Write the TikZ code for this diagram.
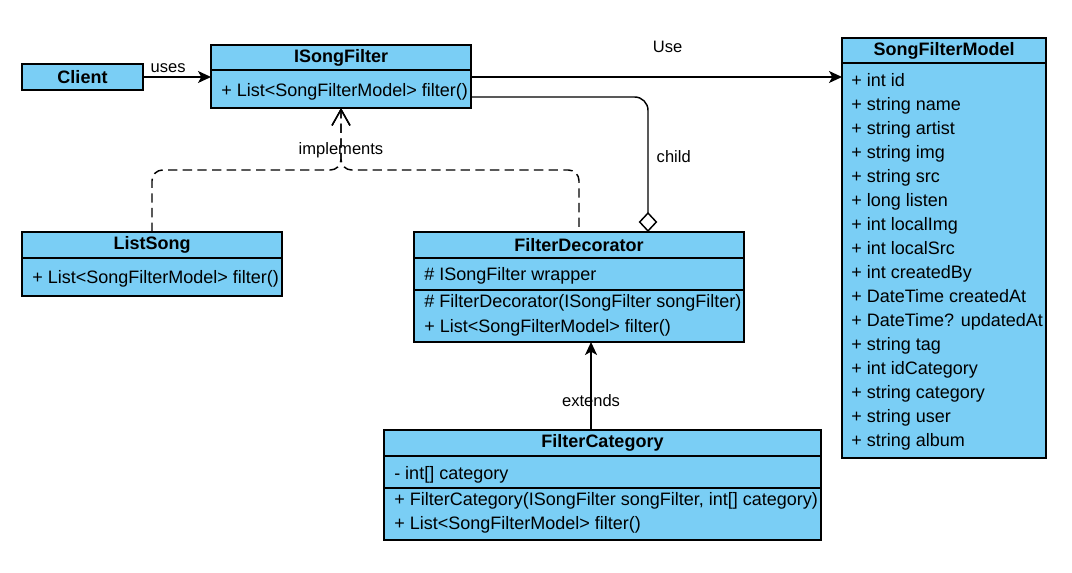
\documentclass[tikz,border=0pt]{standalone}
\usepackage{fontspec}
\setmainfont{Liberation Sans}
\usetikzlibrary{arrows.meta,positioning}
\definecolor{clsblue}{RGB}{122,206,245}

\begin{document}
\begin{tikzpicture}[x=0.75pt,y=-0.75pt,
  every node/.style={font=\fontsize{13.5}{16}\selectfont},
  box/.style={draw,fill=clsblue,line width=1.1pt,inner sep=0pt,outer sep=0pt,anchor=north west},
  head/.style={box,font=\bfseries\fontsize{13.5}{16}\selectfont},
  member/.style={anchor=base west,inner sep=0pt},
  lbl/.style={font=\fontsize{12.4}{14}\selectfont,inner sep=2pt},
  conn/.style={line width=1.1pt,-{Stealth[length=9.75pt,width=9pt,inset=2.5pt]}},
  impl/.style={line width=1.1pt,dash pattern=on 7pt off 4pt,rounded corners=8pt,
    -{Straight Barb[length=12pt,width=13.5pt]}},
  aggr/.style={line width=1.1pt,rounded corners=10pt,
    -{Diamond[fill=white,length=15pt,width=14pt]}}]
  \useasboundingbox (0,0) rectangle (1072,573);

  % Client
  \node[head,minimum width=90.75pt,minimum height=19.5pt] (client) at (22,64) {Client};

  % ISongFilter
  \node[head,minimum width=195pt,minimum height=18.75pt] (isf) at (211,45) {ISongFilter};
  \node[box,minimum width=195pt,minimum height=28.5pt] (isfb) at (isf.south west) {};
  \node[member] (isf1) at (221,96.5) {+ List<SongFilterModel> filter()};

  % SongFilterModel
  \node[head,minimum width=153pt,minimum height=18.75pt] (sfm) at (842,38) {SongFilterModel};
  \node[box,minimum width=153pt,minimum height=296.25pt] (sfmb) at (sfm.south west) {};
  \foreach \m [count=\i from 0] in {+ int id,+ string name,+ string artist,+ string img,
      + string src,+ long listen,+ int localImg,+ int localSrc,+ int createdBy,
      + DateTime createdAt,+ DateTime? updatedAt,+ string tag,+ int idCategory,
      + string category,+ string user,+ string album}
    \node[member] (sfm\i) at (851,{86.5+24*\i}) {\m};

  % ListSong
  \node[head,minimum width=195pt,minimum height=19.5pt] (ls) at (22,232) {ListSong};
  \node[box,minimum width=195pt,minimum height=28.5pt] (lsb) at (ls.south west) {};
  \node[member] (ls1) at (32,283.5) {+ List<SongFilterModel> filter()};

  % FilterDecorator
  \node[head,minimum width=247.5pt,minimum height=19.5pt] (fd) at (414,232) {FilterDecorator};
  \node[box,minimum width=247.5pt,minimum height=24pt] (fda) at (fd.south west) {};
  \node[box,minimum width=247.5pt,minimum height=39pt] (fdm) at (fda.south west) {};
  \node[member] (fd1) at (424,280.5) {\# ISongFilter wrapper};
  \node[member] (fd2) at (424,308) {\# FilterDecorator(ISongFilter songFilter)};
  \node[member] (fd3) at (424,332.5) {+ List<SongFilterModel> filter()};

  % FilterCategory
  \node[head,minimum width=327.75pt,minimum height=19.5pt] (fc) at (384,430) {FilterCategory};
  \node[box,minimum width=327.75pt,minimum height=24pt] (fca) at (fc.south west) {};
  \node[box,minimum width=327.75pt,minimum height=39pt] (fcm) at (fca.south west) {};
  \node[member] (fc1) at (394,479.5) {- int[] category};
  \node[member] (fc2) at (394,505.5) {+ FilterCategory(ISongFilter songFilter, int[] category)};
  \node[member] (fc3) at (394,529.5) {+ List<SongFilterModel> filter()};

  % connectors
  \draw[conn] (client.east) -- (client.east -| isf.west)
    node[lbl,pos=0.37,above=0.75pt] {uses};
  \draw[conn] (client.east -| isfb.east) -- (client.east -| sfm.west)
    node[lbl,pos=0.53,above=16pt] {Use};
  \draw[aggr] (isfb.east) ++(0,8) -| ([xshift=51.75pt]fd.north)
    node[lbl,pos=0.72,right=4pt] {child};
  \draw[impl] (ls.north) -- ++(0,-62) -| (isfb.south);
  \draw[impl,dash phase=7.25pt] (fd.north) -- ++(0,-62) -| (isfb.south)
    node[lbl,pos=0.656] {implements};
  \draw[conn] ([xshift=-8.6pt]fc.north) -- ([xshift=-8.6pt]fc.north |- fdm.south)
    node[lbl,pos=0.33] {extends};
\end{tikzpicture}
\end{document}
